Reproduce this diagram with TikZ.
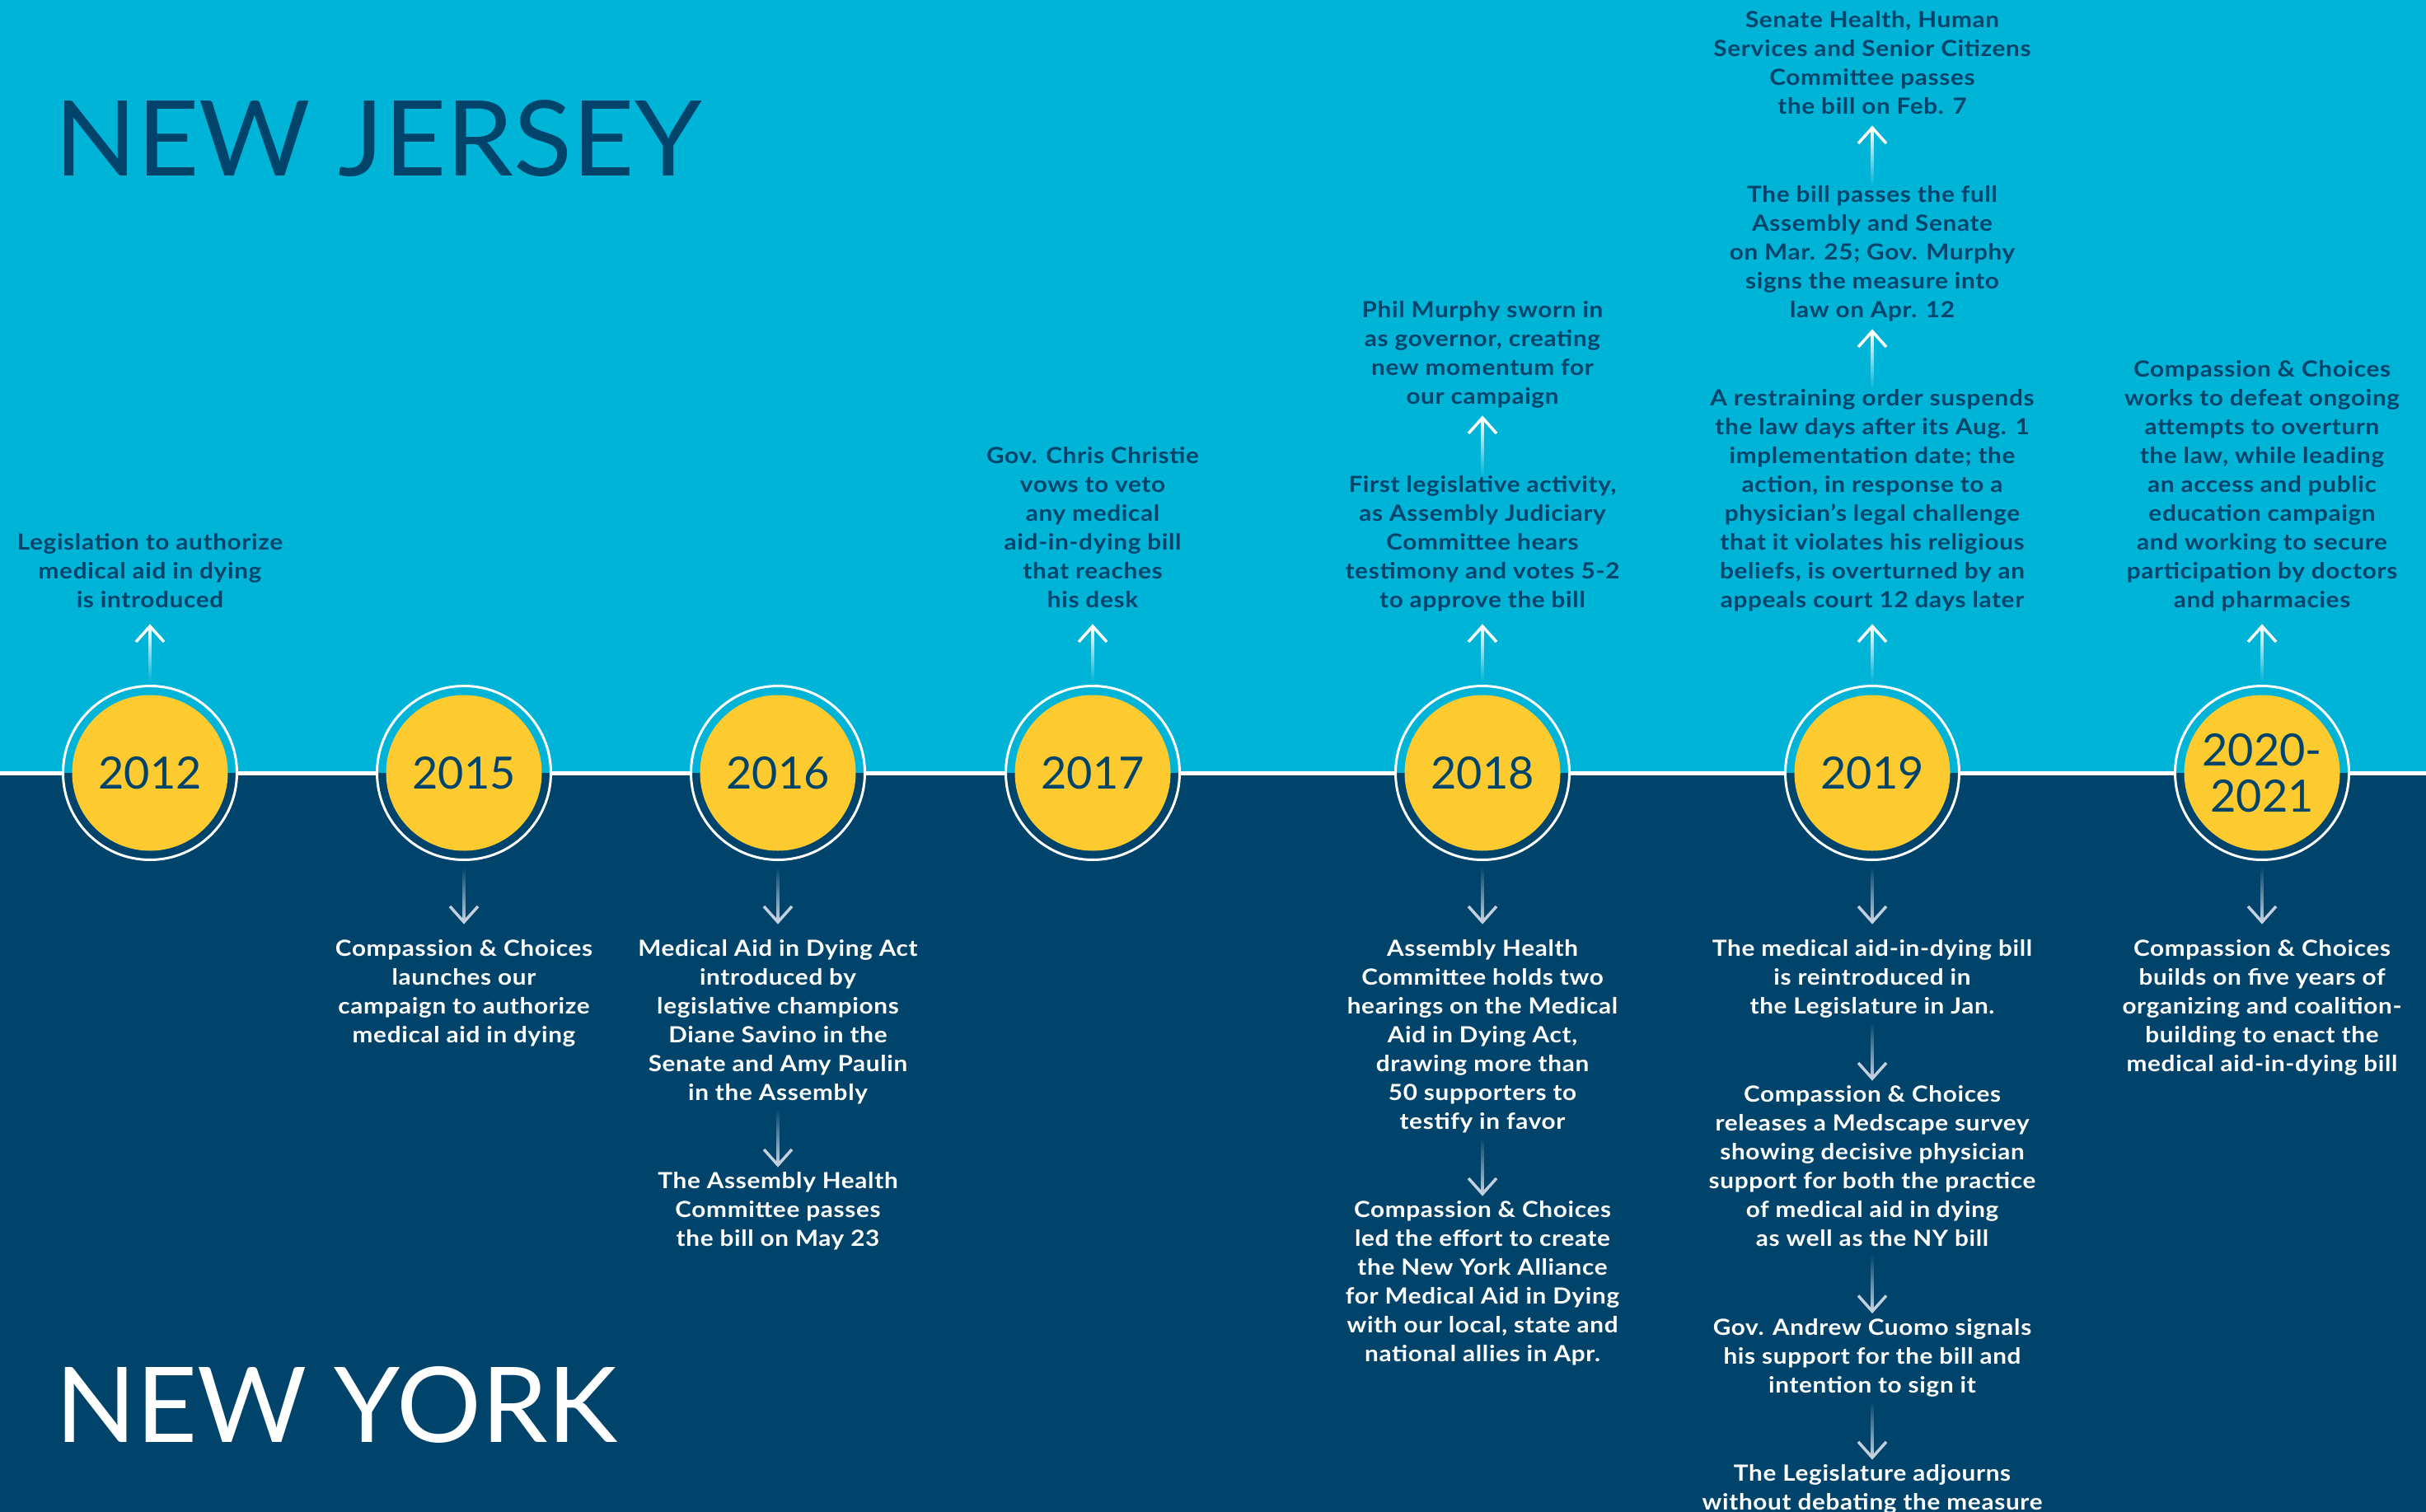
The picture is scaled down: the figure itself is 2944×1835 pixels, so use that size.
\documentclass[tikz,border=0pt]{standalone}
\usepackage{fontspec}
\setmainfont{Lato}
\newfontfamily\bodyfont{Lato}[FakeStretch=1.1,LetterSpace=2.5]
\newfontfamily\titlefont{Lato}[FakeStretch=1.03]
\newfontfamily\nytitlefont{Lato}[FakeStretch=1.012]
\usetikzlibrary{arrows.meta,positioning,calc}
\definecolor{njcyan}{RGB}{0,180,216}
\definecolor{nynavy}{RGB}{0,68,108}
\definecolor{yearyellow}{RGB}{253,202,47}
\definecolor{arrowgrey}{RGB}{196,208,222}
\tikzset{
  body/.style={font={\bodyfont\fontsize{27}{35}\selectfont\bfseries}, align=center, inner sep=0pt,
    execute at begin node=\strut, execute at end node=\strut},
  ntop/.style={body, text=nynavy, anchor=south},
  nbot/.style={body, text=white, anchor=north},
  ring/.style={circle, draw=white, line width=3pt, minimum size=211pt, inner sep=0pt},
  yearball/.style={circle, fill=yearyellow, minimum size=189pt, inner sep=0pt, text=nynavy,
    font={\fontsize{54}{56}\selectfont}, align=center},
  title/.style={font={\titlefont\fontsize{127}{127}\selectfont}, inner sep=0pt, anchor=base west},
  nytitle/.style={font={\nytitlefont\fontsize{127}{127}\selectfont}, inner sep=0pt, anchor=base west},
  hline/.style={white, line width=5pt},
  chevup/.style={white, line width=3.5pt, miter limit=4},
  chevdown/.style={arrowgrey, line width=3.5pt, miter limit=4}
}
\newcommand\ArrUp[2]{%
  \path #1 coordinate (aa) #2 coordinate (bb);
  \shade[top color=white, bottom color=njcyan] ($(bb)+(-1.75,0)$) rectangle ($(aa)+(1.75,0)$);
  \draw[chevup] ($(bb)+(-17,19)$) -- (bb) -- ($(bb)+(17,19)$);
}
\newcommand\ArrDown[2]{%
  \path #1 coordinate (aa) #2 coordinate (bb);
  \shade[top color=nynavy, bottom color=arrowgrey] ($(aa)+(-1.75,0)$) rectangle ($(bb)+(1.75,0)$);
  \draw[chevdown] ($(bb)+(-17,-19)$) -- (bb) -- ($(bb)+(17,-19)$);
}
\begin{document}
\begin{tikzpicture}[x=1pt,y=-1pt]
\useasboundingbox (0,0) rectangle (2944,1835);
\fill[njcyan] (0,0) rectangle (2944,938);
\fill[nynavy] (0,938) rectangle (2944,1835);

% titles
\node[title, text=nynavy] (nj) at (66,214) {NEW JERSEY};
\node[nytitle, text=white] (ny) at (67,1750) {NEW YORK};

% year circles
\foreach \nm/\xx in {2012/182, 2015/563, 2016/944, 2017/1326, 2018/1799, 2019/2272, 2020/2745}{
  \node[ring] (c\nm) at (\xx,938) {};
}
\node[yearball] (y2012) at (c2012) {2012};
\node[yearball] (y2015) at (c2015) {2015};
\node[yearball] (y2016) at (c2016) {2016};
\node[yearball] (y2017) at (c2017) {2017};
\node[yearball] (y2018) at (c2018) {2018};
\node[yearball] (y2019) at (c2019) {2019};
\node[yearball] (y2020) at (c2020) {2020-\\2021};

% timeline line
\coordinate (lineL) at (0,938);
\coordinate (lineR) at (2944,938);
\draw[hline] (lineL) -- (c2012.west) (c2012.east) -- (c2015.west) (c2015.east) -- (c2016.west)
  (c2016.east) -- (c2017.west) (c2017.east) -- (c2018.west) (c2018.east) -- (c2019.west)
  (c2019.east) -- (c2020.west) (c2020.east) -- (lineR);

% New Jersey (top)
\node[ntop] (t2012) at (182,748.5) {Legislation to authorize\\medical aid in dying\\is introduced};
\node[ntop] (t2017) at (1326,748.5) {Gov. Chris Christie\\vows to veto\\any medical\\aid-in-dying bill\\that reaches\\his desk};
\node[ntop] (t2018a) at (1799,748.5) {First legislative activity,\\as Assembly Judiciary\\Committee hears\\testimony and votes 5-2\\to approve the bill};
\node[ntop, above=76pt of t2018a] (t2018b) {Phil Murphy sworn in\\as governor, creating\\new momentum for\\our campaign};
\node[ntop] (t2019a) at (2272,748.5) {A restraining order suspends\\the law days after its Aug. 1\\implementation date; the\\action, in response to a\\physician’s legal challenge\\that it violates his religious\\beliefs, is overturned by an\\appeals court 12 days later};
\node[ntop, above=76pt of t2019a] (t2019b) {The bill passes the full\\Assembly and Senate\\on Mar. 25; Gov. Murphy\\signs the measure into\\law on Apr. 12};
\node[ntop, above=76pt of t2019b] (t2019c) {Senate Health, Human\\Services and Senior Citizens\\Committee passes\\the bill on Feb. 7};
\node[ntop] (t2020) at (2745,748.5) {Compassion \& Choices\\works to defeat ongoing\\attempts to overturn\\the law, while leading\\an access and public\\education campaign\\and working to secure\\participation by doctors\\and pharmacies};

% New York (bottom)
\node[nbot] (b2015) at (563,1140) {Compassion \& Choices\\launches our\\campaign to authorize\\medical aid in dying};
\node[nbot] (b2016a) at (944,1140) {Medical Aid in Dying Act\\introduced by\\legislative champions\\Diane Savino in the\\Senate and Amy Paulin\\in the Assembly};
\node[nbot, below=76.5pt of b2016a] (b2016b) {The Assembly Health\\Committee passes\\the bill on May 23};
\node[nbot] (b2018a) at (1799,1140) {Assembly Health\\Committee holds two\\hearings on the Medical\\Aid in Dying Act,\\drawing more than\\50 supporters to\\testify in favor};
\node[nbot, below=76.5pt of b2018a] (b2018b) {Compassion \& Choices\\led the effort to create\\the New York Alliance\\for Medical Aid in Dying\\with our local, state and\\national allies in Apr.};
\node[nbot] (b2019a) at (2272,1140) {The medical aid-in-dying bill\\is reintroduced in\\the Legislature in Jan.};
\node[nbot, below=76.5pt of b2019a] (b2019b) {Compassion \& Choices\\releases a Medscape survey\\showing decisive physician\\support for both the practice\\of medical aid in dying\\as well as the NY bill};
\node[nbot, below=76.5pt of b2019b] (b2019c) {Gov. Andrew Cuomo signals\\his support for the bill and\\intention to sign it};
\node[nbot, below=76.5pt of b2019c] (b2019d) {The Legislature adjourns\\without debating the measure};
\node[nbot] (b2020) at (2745,1140) {Compassion \& Choices\\builds on five years of\\organizing and coalition-\\building to enact the\\medical aid-in-dying bill};

% arrows up
\ArrUp{($(c2012.north)+(0,-4)$)}{($(t2012.south)+(0,11.5)$)}
\ArrUp{($(c2017.north)+(0,-4)$)}{($(t2017.south)+(0,11.5)$)}
\ArrUp{($(c2018.north)+(0,-4)$)}{($(t2018a.south)+(0,11.5)$)}
\ArrUp{($(c2019.north)+(0,-4)$)}{($(t2019a.south)+(0,11.5)$)}
\ArrUp{($(c2020.north)+(0,-4)$)}{($(t2020.south)+(0,11.5)$)}
\ArrUp{(t2018a.north)}{($(t2018b.south)+(0,5.5)$)}
\ArrUp{(t2019a.north)}{($(t2019b.south)+(0,5.5)$)}
\ArrUp{(t2019b.north)}{($(t2019c.south)+(0,5.5)$)}

% arrows down
\ArrDown{($(c2015.south)+(0,7)$)}{($(b2015.north)+(0,-21)$)}
\ArrDown{($(c2016.south)+(0,7)$)}{($(b2016a.north)+(0,-21)$)}
\ArrDown{($(c2018.south)+(0,7)$)}{($(b2018a.north)+(0,-21)$)}
\ArrDown{($(c2019.south)+(0,7)$)}{($(b2019a.north)+(0,-21)$)}
\ArrDown{($(c2020.south)+(0,7)$)}{($(b2020.north)+(0,-21)$)}
\ArrDown{(b2016a.south)}{($(b2016b.north)+(0,-8.5)$)}
\ArrDown{(b2018a.south)}{($(b2018b.north)+(0,-8.5)$)}
\ArrDown{(b2019a.south)}{($(b2019b.north)+(0,-8.5)$)}
\ArrDown{(b2019b.south)}{($(b2019c.north)+(0,-8.5)$)}
\ArrDown{(b2019c.south)}{($(b2019d.north)+(0,-8.5)$)}
\end{tikzpicture}
\end{document}
